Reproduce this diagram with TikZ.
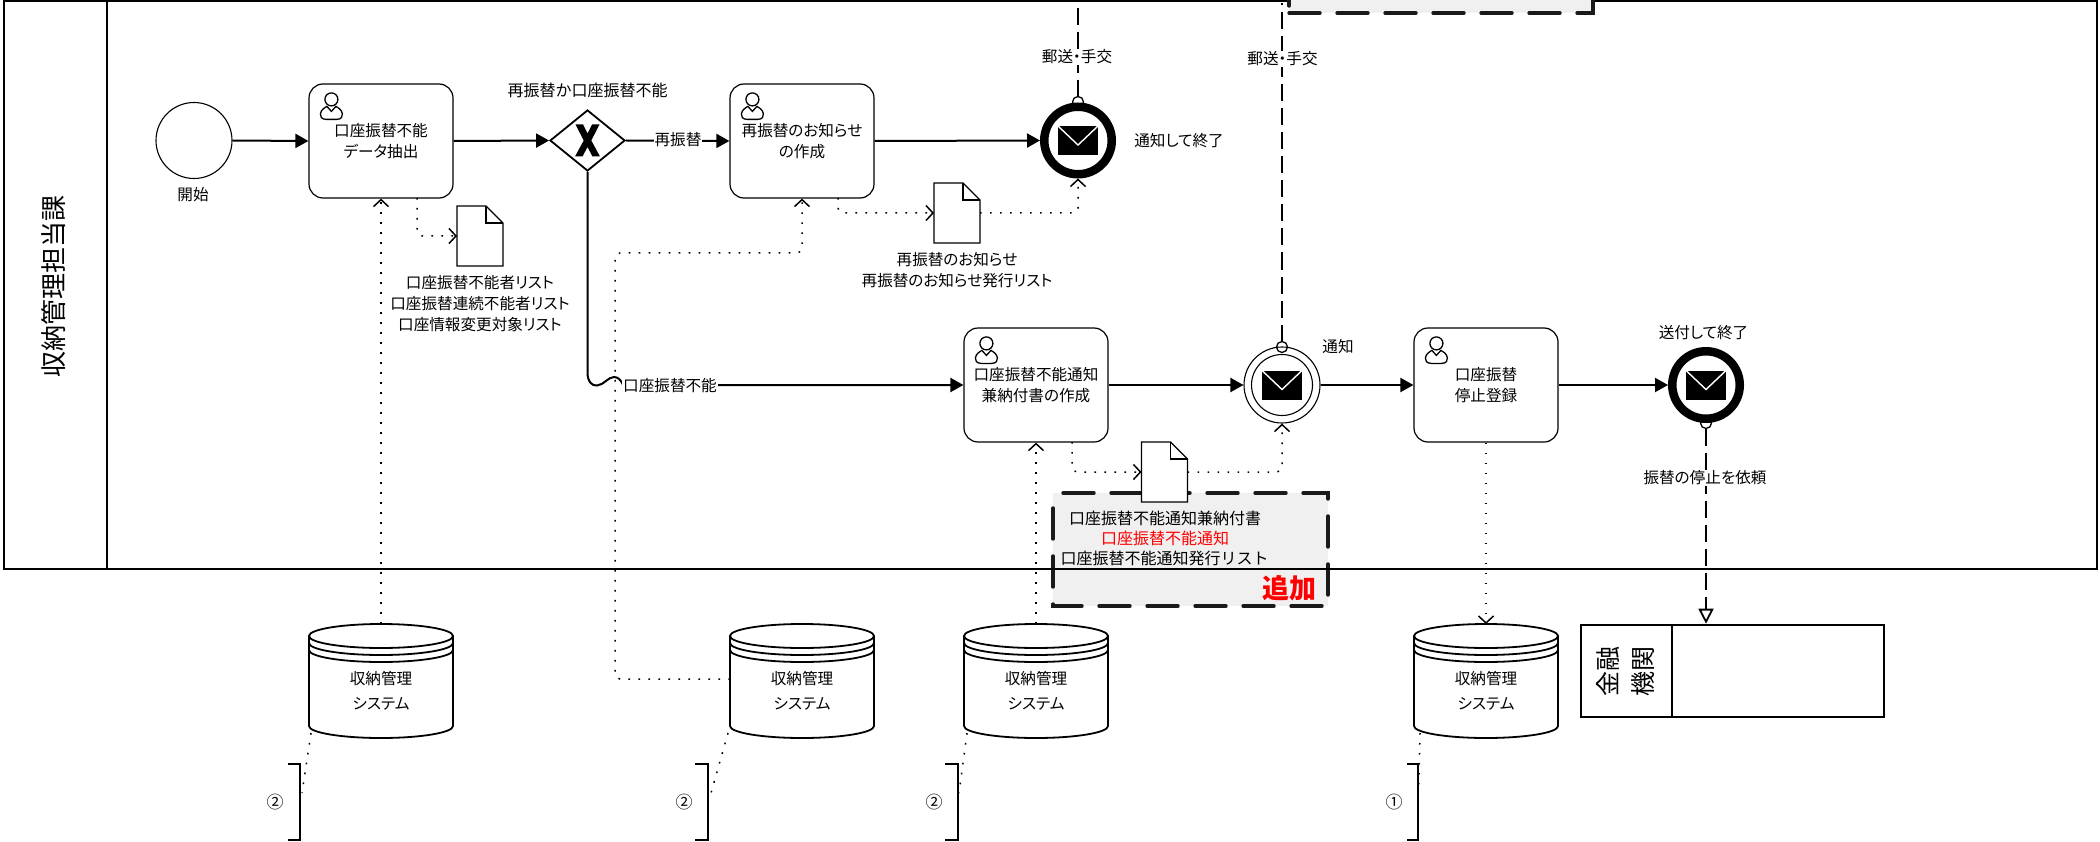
\documentclass[tikz,border=0pt]{standalone}
\usepackage{fontspec}
\setmainfont{Noto Sans CJK JP}[RawFeature=+palt]
\newfontfamily\fullcjk{Noto Sans CJK JP}
\usetikzlibrary{arrows.meta,shapes.geometric,calc}
\definecolor{ink}{HTML}{000000}
\definecolor{addgrey}{HTML}{F0F0F0}
\definecolor{dashink}{HTML}{1A1A1A}
\tikzset{
  txt/.style={font=\fontsize{15.6}{21}\selectfont,align=center,inner sep=0pt,text=ink},
  lbl/.style={txt,fill=white,inner xsep=1pt,inner ysep=1pt},
  taskbox/.style={draw=ink,line width=1.2pt,fill=white,rounded corners=14pt,minimum width=144pt,minimum height=114pt,inner sep=0pt,txt},
  startev/.style={circle,draw=ink,line width=1.1pt,fill=white,minimum size=76pt,inner sep=0pt},
  endev/.style={circle,draw=ink,line width=8.5pt,minimum size=67.5pt,inner sep=0pt},
  seq/.style={draw=ink,line width=2pt,-{Triangle[length=13pt,width=14pt]}},
  assoc/.style={draw=ink,line width=1.5pt,dash pattern=on 1.7pt off 8.3pt,rounded corners=5pt},
  assocto/.style={assoc,-{Straight Barb[length=7pt,width=15pt]}},
  msg/.style={draw=ink,line width=1.8pt,dash pattern=on 17pt off 7pt},
  ball/.style={draw=ink,line width=1.3pt},
  addbox/.style={draw=dashink,line width=3.4pt,line cap=round,dash pattern=on 31pt off 17pt},
  thick line/.style={draw=ink,line width=2.6pt},
  brk/.style={draw=ink,line width=1.8pt},
  dbpart/.style={draw=ink,line width=1.8pt},
}
\newcommand{\userfig}[1]{%
  \begin{scope}[shift={(#1.north west)},line width=1.3pt]
    \draw[ink] (23,16) circle[radius=6.5pt];
    \draw[ink] (18,36) .. controls (13,36) and (11.5,33) .. (12,30.5) .. controls (12.5,26) and (17,24) .. (18.5,23) -- (23,28) -- (27.5,23) .. controls (29,24) and (33.5,26) .. (34,30.5) .. controls (34.5,33) and (33,36) .. (28,36) -- cycle;
  \end{scope}}
\newcommand{\mailfig}[1]{%
  \begin{scope}[shift={(#1.center)}]
    \fill[ink] (-20,-14.5) rectangle (20,14.5);
    \draw[white,line width=1.4pt] (-20,-14.5) -- (0,4.5) -- (20,-14.5);
  \end{scope}}
\newcommand{\docfig}[3]{%
  \node[minimum width=46pt,minimum height=60pt,inner sep=0pt,outer sep=0pt] (#1) at (#2,#3) {};
  \begin{scope}[shift={(#1.north west)}]
    \draw[ink,line width=1.2pt,fill=white] (0,0) -- (29,0) -- (46,17) -- (46,60) -- (0,60) -- cycle;
    \draw[ink,line width=1.4pt] (29,0) -- (29,17) -- (46,17);
  \end{scope}}
\newcommand{\dbfig}[3]{%
  \begin{scope}[shift={(#2,#3)}]
    \draw[dbpart,fill=white] (-72,12) -- (-72,102) .. controls (-72,108.6) and (-40,114) .. (0,114) .. controls (40,114) and (72,108.6) .. (72,102) -- (72,12) -- cycle;
    \draw[dbpart,fill=white] (0,12) ellipse[x radius=72pt,y radius=12pt];
    \draw[dbpart] (-72,12) -- (-72,26) .. controls (-72,32.6) and (-40,38) .. (0,38) .. controls (40,38) and (72,32.6) .. (72,26) -- (72,12);
    \draw[dbpart] (-72,19) .. controls (-72,25.6) and (-40,31) .. (0,31) .. controls (40,31) and (72,25.6) .. (72,19);
    \node[minimum width=144pt,minimum height=114pt,inner sep=0pt,outer sep=0pt] (#1) at (0,57) {};
    \node[txt] (#1t1) at (0,55) {収納管理};
    \node[txt] (#1t2) at (0,80) {システム};
  \end{scope}}
\begin{document}
\begin{tikzpicture}[x=1pt,y=-1pt]
\useasboundingbox (0,0) rectangle (2100,842);
\fill[white] (0,0) rectangle (2100,842);
\clip (0,0) rectangle (2100,842);

% lower added box (under the pool lines)
\fill[addgrey] (1053,493) rectangle (1328,606);
\draw[addbox,dash phase=38pt] (1053,493) -- (1328,493) -- (1328,606) -- (1053,606) -- cycle;

% pool
\draw[thick line] (4,1) rectangle (2097,569);
\draw[thick line] (107,1) -- (107,569);
\node[font=\fontsize{26}{26}\selectfont,rotate=90,inner sep=0pt] (lanetitle) at (54,286) {収納管理担当課};

% upper added box
\fill[addgrey] (1289,0) rectangle (1593,13);
\draw[addbox] (1289,13) -- (1593,13) -- (1593,-5);
\draw[addbox,dash pattern=on 7pt off 10pt] (1289,6) -- (1289,0);

% tasks
\node[taskbox] (t1) at (381,141) {口座振替不能\\データ抽出};
\node[taskbox] (t2) at (802,141) {再振替のお知らせ\\の作成};
\node[taskbox] (t3) at (1036,385) {口座振替不能通知\\兼納付書の作成};
\node[taskbox] (t4) at (1486,385) {口座振替\\停止登録};
\userfig{t1}\userfig{t2}\userfig{t3}\userfig{t4}

% events
\node[startev] (s) at (194,140.5) {};
\node[txt] (slabel) at (193,195) {開始};

\draw[ball,fill=white] (1078,102) circle[radius=5.5pt];
\draw[ball,fill=white] (1706,423) circle[radius=5.5pt];
\node[endev] (e1) at (1078,140.5) {};
\node[endev] (e3) at (1706,385) {};
\node[startev] (ie) at (1282,385) {};
\draw[ink,line width=1.1pt] (ie.center) circle[radius=30.5pt];
\mailfig{e1}\mailfig{e3}\mailfig{ie}

% gateway
\node[diamond,draw=ink,line width=1.8pt,fill=white,minimum width=75pt,minimum height=61pt,shape aspect=1.23,inner sep=0pt] (gw) at (587.5,140.5) {};
\begin{scope}[shift={(gw.center)}]
  \fill[ink] (-12,-16) -- (-4.5,-16) -- (0,-7) -- (4.5,-16) -- (12,-16) -- (3.8,0) -- (12.5,16) -- (5,16) -- (0,6.5) -- (-5,16) -- (-12.5,16) -- (-3.8,0) -- cycle;
\end{scope}

% documents
\docfig{d1}{480}{236}
\docfig{d2}{957}{213}
\docfig{d3}{1164.5}{472}

% system cylinders
\dbfig{db1}{381}{624}
\dbfig{db2}{802}{624}
\dbfig{db3}{1036}{624}
\dbfig{db4}{1486}{624}

% bank
\node[draw=ink,line width=2.6pt,fill=white,minimum width=303pt,minimum height=92pt,inner sep=0pt] (bank) at (1732.5,671) {};
\draw[ink,line width=2.6pt] (1672,625) -- (1672,717);
\node[font=\fontsize{25}{35}\selectfont,rotate=90,align=center,inner sep=0pt] (banktitle) at (1625,671) {金融\\機関};

% brackets
\draw[brk] (288,764) -- (300,764) -- (300,840) -- (288,840);
\draw[brk] (695,764) -- (708,764) -- (708,840) -- (695,840);
\draw[brk] (945,764) -- (958,764) -- (958,840) -- (945,840);
\draw[brk] (1407,764) -- (1418,764) -- (1418,840) -- (1407,840);
\node[txt,font=\fontsize{17}{21}\selectfont] (n1) at (275,802) {②};
\node[txt,font=\fontsize{17}{21}\selectfont] (n2) at (684,802) {②};
\node[txt,font=\fontsize{17}{21}\selectfont] (n3) at (934,802) {②};
\node[txt,font=\fontsize{17}{21}\selectfont] (n4) at (1394,802) {①};

% named free points
\coordinate (t1out) at (417,198);
\coordinate (t2out) at (838,198);
\coordinate (t3out) at (1072,442);
\coordinate (b1) at (302,793);
\coordinate (b2) at (711,793);
\coordinate (b3) at (959,793);
\coordinate (b4) at (1418.5,793);
\coordinate (top1) at (1078,0);
\coordinate (top2) at (1282,3);

% sequence flows
\draw[seq] (s.east) -- (t1.west);
\draw[seq] (t1.east) -- (gw.west);
\draw[seq] (gw.east) -- (t2.west);
\draw[seq] (t2.east) -- (e1.west);
\draw[seq] (gw.south) -- (587.5,372) .. controls (587.5,382) and (592,386) .. (597,385.5) .. controls (604,385) and (608,377) .. (614,377) .. controls (618,377) and (621,380) .. (623,385) -- (t3.west);
\draw[seq] (t3.east) -- (ie.west);
\draw[seq] (ie.east) -- (t4.west);
\draw[seq] (t4.east) -- (e3.west);

% associations
\draw[assocto] (db1.north) -- (t1.south);
\draw[assocto] (t1out) -- (t1out |- d1.west) -- (d1.west);
\draw[assocto] (db2.west |- db2t1) -- (615,679) -- (615,253) -- (802,253) -- (t2.south);
\draw[assocto] (t2out) -- (t2out |- d2.west) -- (d2.west);
\draw[assocto] (d2.east) -- (e1.south |- d2.east) -- (e1.south);
\draw[assocto] (db3.north) -- (t3.south);
\draw[assocto] (t3out) -- (t3out |- d3.west) -- (d3.west);
\draw[assocto] (d3.east) -- (ie.south |- d3.east) -- (ie.south);
\draw[assocto] (t4.south) -- (db4.north);
\draw[assoc] (311,733) -- (b1);
\draw[assoc] (728,733) -- (b2);
\draw[assoc] (967,733) -- (b3);
\draw[assoc] (1420,733) -- (b4);

% message flows
\draw[msg] (1078,97) -- (top1);
\draw[msg] (1282,341.5) -- (top2);
\draw[ball] (1282,347) circle[radius=5.5pt];
\draw[msg,-{Triangle[open,length=15pt,width=15pt,fill=white]}] (1706,428.5) -- (bank.north -| e3.south);

% labels
\node[lbl,font=\fontsize{16}{21}\selectfont\fullcjk] (l0) at (587.5,90) {再振替か口座振替不能};
\node[lbl] (l1) at (678,140) {再振替};
\node[lbl] (l2) at (670,386) {口座振替不能};
\node[txt] (l3) at (480,303.5) {口座振替不能者リスト\\口座振替連続不能者リスト\\口座情報変更対象リスト};
\node[txt] (l4) at (957,270.5) {再振替のお知らせ\\再振替のお知らせ発行リスト};
\node[lbl] (l5) at (1077,57) {郵送・手交};
\node[lbl] (l6) at (1282.5,59) {郵送・手交};
\node[txt] (l7) at (1179,141) {通知して終了};
\node[txt] (l8) at (1338,347) {通知};
\node[txt] (l9) at (1703.5,333) {送付して終了};
\node[lbl] (l10) at (1705,478) {振替の停止を依頼};
\node[txt,font=\fontsize{16}{21}\selectfont] (b1t) at (1165,518) {口座振替不能通知兼納付書};
\node[txt,text=red,font=\fontsize{16}{21}\selectfont] (b2t) at (1165,538) {口座振替不能通知};
\node[txt,font=\fontsize{16}{21}\selectfont\fullcjk] (b3t) at (1164.5,558) {口座振替不能通知発行リスト};
\node[font=\fontsize{27}{27}\selectfont\bfseries,text=red,inner sep=0pt] (addlabel) at (1289,588) {追加};
\end{tikzpicture}
\end{document}
